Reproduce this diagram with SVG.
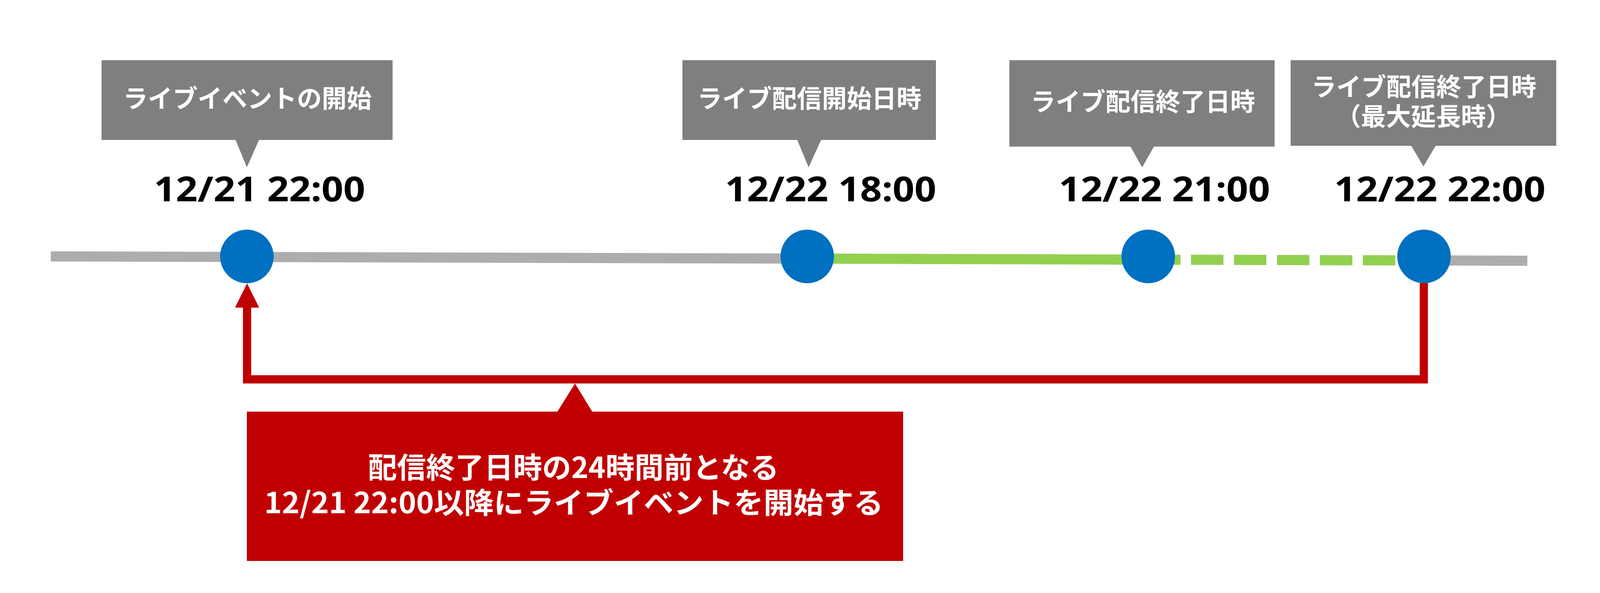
<svg xmlns="http://www.w3.org/2000/svg" width="4134" height="1517" viewBox="0 0 4134 1517">
<style>
.box{fill:#7F7F7F}
.lbl{font-family:"Noto Sans CJK JP","Noto Sans",sans-serif;font-weight:700;font-size:64px;fill:#FFFFFF;text-anchor:middle;dominant-baseline:central}
.date{font-family:"Noto Sans","Liberation Sans",sans-serif;font-weight:700;font-size:87px;fill:#000000;text-anchor:middle}
.dot{fill:#0070C0}
.note{font-family:"Noto Sans CJK JP","Noto Sans",sans-serif;font-weight:700;font-size:74px;fill:#FFFFFF;text-anchor:middle;dominant-baseline:central}
</style>
<defs>
<marker id="arr" markerUnits="userSpaceOnUse" markerWidth="62" markerHeight="62" viewBox="0 0 62 62" refX="0" refY="31" orient="auto">
<path d="M0,0 L62,31 L0,62 Z" fill="#C00000"/>
</marker>
</defs>
<rect x="0" y="0" width="4134" height="1517" fill="#FFFFFF"/>
<g id="timeline">
<line x1="130" y1="656" x2="2066" y2="661.6" stroke="#ADADAD" stroke-width="26"/>
<line x1="3645" y1="666.2" x2="3910" y2="667" stroke="#ADADAD" stroke-width="26"/>
<line x1="2066" y1="661.6" x2="2939" y2="664.2" stroke="#92D050" stroke-width="26"/>
<line x1="2939" y1="664.2" x2="3645" y2="666.2" stroke="#92D050" stroke-width="26" stroke-dasharray="83 27"/>
</g>
<g id="connectors">
<path d="M3645,724 V970.5 H632.5 V787" fill="none" stroke="#C00000" stroke-width="21" marker-end="url(#arr)"/>
</g>
<g id="event-start">
<path class="box" d="M260,154 H1005 V358 H663 L632,428 L603,358 H260 Z"/>
<text class="lbl" x="633" y="247" textLength="636" lengthAdjust="spacingAndGlyphs">ライブイベントの開始</text>
<text class="date" x="664.5" y="515" textLength="541" lengthAdjust="spacingAndGlyphs">12/21 22:00</text>
<circle class="dot" cx="632" cy="656" r="68.5"/>
</g>
<g id="stream-start">
<path class="box" d="M1747,154 H2396 V358 H2102 L2070,428 L2041,358 H1747 Z"/>
<text class="lbl" x="2072" y="247" textLength="574" lengthAdjust="spacingAndGlyphs">ライブ配信開始日時</text>
<text class="date" x="2126.5" y="515" textLength="541" lengthAdjust="spacingAndGlyphs">12/22 18:00</text>
<circle class="dot" cx="2066.5" cy="656" r="68.5"/>
</g>
<g id="stream-end">
<path class="box" d="M2584,154 H3263 V375 H2954 L2924,428 L2894,375 H2584 Z"/>
<text class="lbl" x="2926" y="255" textLength="575" lengthAdjust="spacingAndGlyphs">ライブ配信終了日時</text>
<text class="date" x="2981" y="515" textLength="541" lengthAdjust="spacingAndGlyphs">12/22 21:00</text>
<circle class="dot" cx="2939.5" cy="656" r="68.5"/>
</g>
<g id="stream-end-max">
<path class="box" d="M3304,154 H3984 V373 H3675 L3644,426 L3613,373 H3304 Z"/>
<text class="lbl"><tspan x="3645" y="217">ライブ配信終了日時</tspan><tspan x="3644" y="293">（最大延長時）</tspan></text>
<text class="date" x="3686" y="515" textLength="541" lengthAdjust="spacingAndGlyphs">12/22 22:00</text>
<circle class="dot" cx="3645.5" cy="656" r="68.5"/>
</g>
<g id="note">
<path d="M632,1053 H1427 L1472,981 L1516,1053 H2312 V1435 H632 Z" fill="#C00000"/>
<text class="note"><tspan x="1468" y="1190" textLength="1052" lengthAdjust="spacingAndGlyphs">配信終了日時の24時間前となる</tspan><tspan x="1469" y="1280" textLength="1585" lengthAdjust="spacingAndGlyphs">12/21 22:00以降にライブイベントを開始する</tspan></text>
</g>
</svg>
